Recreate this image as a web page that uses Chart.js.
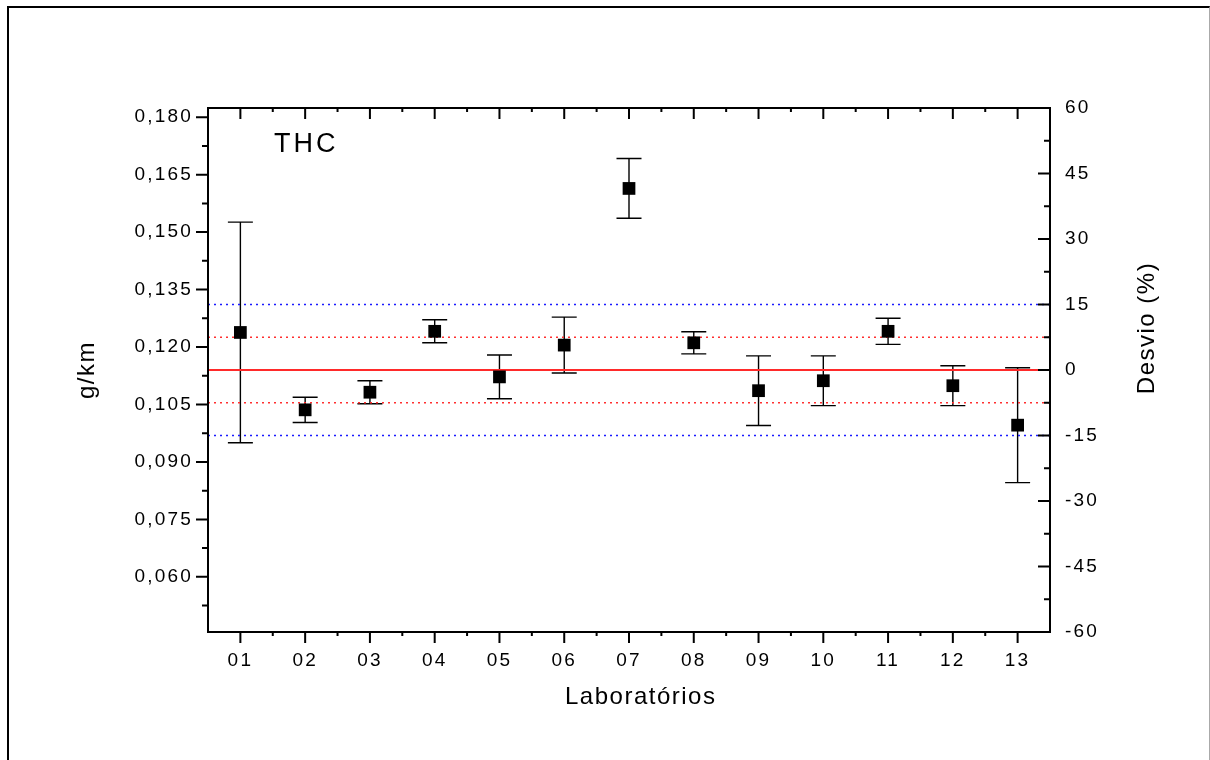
<!DOCTYPE html>
<html>
<head>
<meta charset="utf-8">
<script src="https://cdn.jsdelivr.net/npm/chart.js@4.4.1/dist/chart.umd.min.js"></script>
<style>
html,body{margin:0;padding:0;background:#fff;}
#wrap{position:relative;width:1210px;height:760px;overflow:hidden;}
#frame{position:absolute;left:7px;top:6px;width:1200px;height:800px;border-left:2px solid #000;border-top:2px solid #000;border-right:1px solid #aaa;}
canvas{position:absolute;left:0;top:0;}
</style>
</head>
<body>
<div id="wrap"><div id="frame"></div><canvas id="c" width="1210" height="760"></canvas></div>
<script>
// ---- data ----
const labs = ['01','02','03','04','05','06','07','08','09','10','11','12','13'];
const thc = [0.1238, 0.1036, 0.1082, 0.1241, 0.1122, 0.1205, 0.1614, 0.1211, 0.1086, 0.1112, 0.1241, 0.1099, 0.0996];
const thcErr = [0.0288, 0.0033, 0.0030, 0.0030, 0.0057, 0.0073, 0.0078, 0.0029, 0.0091, 0.0065, 0.0034, 0.0052, 0.0150];
const refValue = 0.114;          // g/km, 0 % deviation
const devRange = 60;             // right axis spans -60..60 %
const innerLimits = [7.5, -7.5]; // red dotted lines (%)
const outerLimits = [15, -15];   // blue dotted lines (%)
const leftTicks = [0.060, 0.075, 0.090, 0.105, 0.120, 0.135, 0.150, 0.165, 0.180];
const rightTicks = [-60, -45, -30, -15, 0, 15, 30, 45, 60];
const annotation = 'THC';
const xTitle = 'Laboratórios';
const leftTitle = 'g/km';
const rightTitle = 'Desvio (%)';

const FONT = '"Liberation Sans", Arial, sans-serif';
const yMin = refValue * (1 - devRange / 100);
const yMax = refValue * (1 + devRange / 100);

function hLine(v, color, dash, width) {
  return {
    type: 'line', yAxisID: 'y2', xAxisID: 'x',
    data: [{x: 0.5, y: v}, {x: labs.length + 0.5, y: v}],
    borderColor: color, borderDash: dash, borderWidth: width,
    pointRadius: 0, fill: false, order: 1
  };
}

const datasets = [
  {
    type: 'scatter', label: annotation, yAxisID: 'y', xAxisID: 'x',
    data: thc.map((v, i) => ({x: i + 1, y: v})),
    pointStyle: 'rect', pointRadius: 9, pointHoverRadius: 9,
    backgroundColor: '#000', borderColor: '#000', borderWidth: 0, order: 0
  },
  hLine(0, '#ff2a2a', [], 2),
  ...innerLimits.map(v => hLine(v, '#ff3030', [2, 4], 1.6)),
  ...outerLimits.map(v => hLine(v, '#1a1aff', [2, 4], 1.6))
];

const TICK_LS = '2.2px';
const spacing = {
  id: 'spacing',
  beforeUpdate(chart) { chart.ctx.letterSpacing = TICK_LS; },
  beforeDraw(chart) { chart.ctx.letterSpacing = '1.5px'; }   // left axis title
};

const errorBars = {
  id: 'errorBars',
  beforeDatasetsDraw(chart) {
    const {ctx, scales: {x, y}} = chart;
    ctx.save();
    ctx.strokeStyle = '#000';
    ctx.lineWidth = 1.4;
    thc.forEach((v, i) => {
      const px = x.getPixelForValue(i + 1);
      const t = y.getPixelForValue(v + thcErr[i]);
      const b = y.getPixelForValue(v - thcErr[i]);
      ctx.beginPath();
      ctx.moveTo(px, t); ctx.lineTo(px, b);
      ctx.moveTo(px - 12.5, t); ctx.lineTo(px + 12.5, t);
      ctx.moveTo(px - 12.5, b); ctx.lineTo(px + 12.5, b);
      ctx.stroke();
    });
    ctx.restore();
  }
};

const frame = {
  id: 'frame',
  afterDatasetsDraw(chart) {
    const {ctx, chartArea: a, scales: {x, y, y2}} = chart;
    ctx.save();
    ctx.strokeStyle = '#000';
    ctx.lineWidth = 2;
    ctx.strokeRect(a.left, a.top, a.right - a.left, a.bottom - a.top);
    ctx.beginPath();
    const lStep = leftTicks[1] - leftTicks[0];
    leftTicks.forEach(t => {
      const py = y.getPixelForValue(t);
      ctx.moveTo(a.left - 12, py); ctx.lineTo(a.left, py);
      const m = t - lStep / 2;
      if (m > yMin) { const pm = y.getPixelForValue(m); ctx.moveTo(a.left - 6, pm); ctx.lineTo(a.left, pm); }
    });
    const rStep = rightTicks[1] - rightTicks[0];
    rightTicks.forEach(t => {
      const py = y2.getPixelForValue(t);
      ctx.moveTo(a.right - 12, py); ctx.lineTo(a.right, py);
      const m = t + rStep / 2;
      if (m < devRange) { const pm = y2.getPixelForValue(m); ctx.moveTo(a.right - 6, pm); ctx.lineTo(a.right, pm); }
    });
    labs.forEach((l, i) => {
      const px = x.getPixelForValue(i + 1);
      ctx.moveTo(px, a.bottom); ctx.lineTo(px, a.bottom + 11);
      ctx.moveTo(px, a.top); ctx.lineTo(px, a.top + 11);
      if (i < labs.length - 1) {
        const pm = x.getPixelForValue(i + 1.5);
        ctx.moveTo(pm, a.bottom); ctx.lineTo(pm, a.bottom + 4);
        ctx.moveTo(pm, a.top); ctx.lineTo(pm, a.top + 4);
      }
    });
    ctx.stroke();
    ctx.fillStyle = '#000';
    ctx.textBaseline = 'middle';
    // annotation
    ctx.font = '27px ' + FONT;
    ctx.letterSpacing = '3px';
    ctx.textAlign = 'left';
    ctx.fillText(annotation, a.left + 66, 145);
    // bottom axis title
    ctx.font = '24px ' + FONT;
    ctx.letterSpacing = '1.5px';
    ctx.textAlign = 'left';
    ctx.fillText(xTitle, a.left + 357, 697);
    // right axis title (reads bottom to top)
    ctx.textAlign = 'center';
    ctx.translate(1147, 328);
    ctx.rotate(-Math.PI / 2);
    ctx.fillText(rightTitle, 0, 0);
    ctx.restore();
    chart.ctx.letterSpacing = TICK_LS;   // tick labels (drawn in z=1 layer)
  }
};

new Chart(document.getElementById('c'), {
  data: {datasets},
  options: {
    responsive: false,
    animation: false,
    devicePixelRatio: 1,
    layout: {padding: {top: 108, left: 0, right: 0, bottom: 0}},
    plugins: {legend: {display: false}, tooltip: {enabled: false}},
    scales: {
      x: {
        type: 'linear', position: 'bottom', min: 0.5, max: labs.length + 0.5,
        afterBuildTicks: s => { s.ticks = labs.map((l, i) => ({value: i + 1})); },
        afterFit: s => { s.height = 128; },
        grid: {display: false, drawTicks: false},
        border: {display: false},
        ticks: {z: 1, autoSkip: false, maxRotation: 0, padding: 17, color: '#000',
                font: {size: 19, family: FONT},
                callback: (v, i) => labs[i]},
        title: {display: false}
      },
      y: {
        type: 'linear', position: 'left', min: yMin, max: yMax,
        afterBuildTicks: s => { s.ticks = leftTicks.map(v => ({value: v})); },
        afterFit: s => { s.width = 208; },
        grid: {display: false, drawTicks: false},
        border: {display: false},
        ticks: {z: 1, padding: 15, color: '#000', font: {size: 19, family: FONT},
                callback: v => v.toFixed(3).replace('.', ',')},
        title: {display: true, text: leftTitle, color: '#000',
                font: {size: 24, family: FONT}, padding: {top: 73, bottom: 0}}
      },
      y2: {
        type: 'linear', position: 'right', min: -devRange, max: devRange,
        afterBuildTicks: s => { s.ticks = rightTicks.map(v => ({value: v})); },
        afterFit: s => { s.width = 160; },
        grid: {display: false, drawTicks: false},
        border: {display: false},
        ticks: {z: 1, padding: 15, color: '#000', font: {size: 19, family: FONT},
                callback: v => String(v)},
        title: {display: false}
      }
    }
  },
  plugins: [spacing, errorBars, frame]
});
</script>
</body>
</html>
